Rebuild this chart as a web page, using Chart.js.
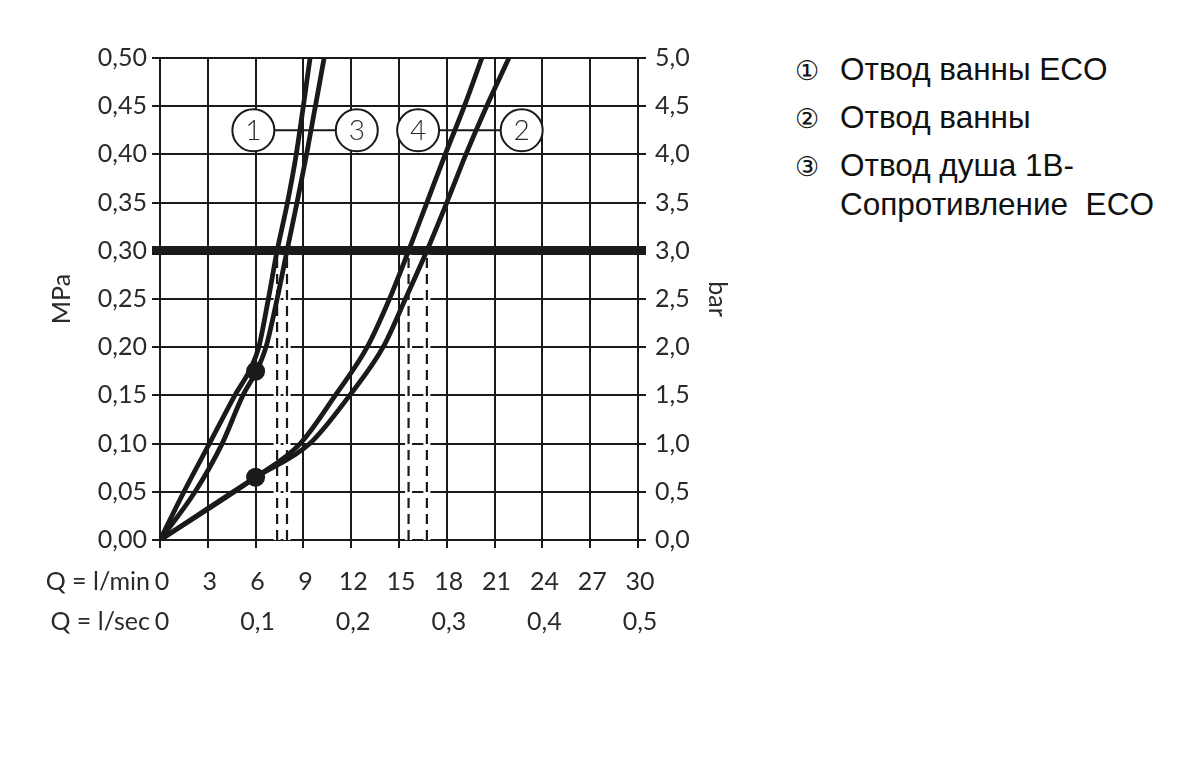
<!DOCTYPE html>
<html>
<head>
<meta charset="utf-8">
<script src="https://cdn.jsdelivr.net/npm/chart.js@4.4.0/dist/chart.umd.min.js"></script>
<style>
  html, body { margin: 0; padding: 0; background: #fff; }
  #wrap { position: absolute; left: 0; top: 0; width: 760px; height: 765px; }
  #legend { position: absolute; left: 795px; top: 45px; font-family: "Liberation Sans", Arial, sans-serif; font-size: 31.5px; color: #111; }
  #legend .row { height: 48px; line-height: 48px; white-space: pre; }
  #legend .row.cont { height: 38px; line-height: 30px; }
  #legend .num { display: inline-block; width: 45px; font-family: "DejaVu Sans", sans-serif; font-size: 27px; font-weight: 300; }
</style>
</head>
<body>
<div id="wrap"><canvas id="chart" width="760" height="765"></canvas></div>
<div id="legend">
  <div class="row"><span class="num">①</span>Отвод ванны ECO</div>
  <div class="row"><span class="num">②</span>Отвод ванны</div>
  <div class="row"><span class="num">③</span>Отвод душа 1B-</div>
  <div class="row cont"><span class="num"></span>Сопротивление  ECO</div>
</div>
<script>
/* ================= DATA ================= */
// flow in l/min, pressure in MPa
const curve1Flow = [0, 1.5, 3.1, 4.7, 5.75, 6.2, 6.8, 7.35, 8.0, 8.55, 9.42];
const curve1Pres = [0, 0.05, 0.10, 0.15, 0.18, 0.20, 0.25, 0.30, 0.35, 0.40, 0.50];

const curve3Flow = [0, 2.2, 3.9, 5.2, 6.05, 6.65, 7.35, 7.97, 8.6, 9.2, 10.3];
const curve3Pres = [0, 0.05, 0.10, 0.15, 0.175, 0.20, 0.25, 0.30, 0.35, 0.40, 0.50];

const curve4Flow = [0, 6, 8.8, 11.0, 13.0, 14.4, 15.6, 16.75, 17.9, 19.1, 20.2];
const curve4Pres = [0, 0.065, 0.10, 0.15, 0.20, 0.25, 0.30, 0.35, 0.40, 0.45, 0.50];

const curve2Flow = [0, 6, 9.4, 11.9, 14.0, 15.4, 16.75, 18.0, 19.2, 20.5, 21.9];
const curve2Pres = [0, 0.065, 0.10, 0.15, 0.20, 0.25, 0.30, 0.35, 0.40, 0.45, 0.50];

const dotFlow = [6, 6];
const dotPres = [0.175, 0.065];

const workPressure = 0.30;
const workFlow = [7.35, 7.97, 15.6, 16.75];

const badgeText = ["1", "3", "4", "2"];
const badgeFlow = [5.86, 12.35, 16.2, 22.7];
const badgePres = 0.425;

const minLabels = ["0", "3", "6", "9", "12", "15", "18", "21", "24", "27", "30"];
const secLabels = ["0", "", "0,1", "", "0,2", "", "0,3", "", "0,4", "", "0,5"];

/* ================= HELPERS ================= */
const INK = "#1a1a1a";
const TEXT = "#2a2a2a";
const FONT = "Lato";

function points(xs, ys) {
  return xs.map((x, i) => ({ x: x, y: ys[i] }));
}

function curveSet(xs, ys) {
  return {
    data: points(xs, ys),
    showLine: true,
    borderColor: INK,
    borderWidth: 4.8,
    pointRadius: 0,
    cubicInterpolationMode: "monotone",
    order: 2
  };
}

const datasets = [
  curveSet(curve1Flow, curve1Pres),
  curveSet(curve3Flow, curve3Pres),
  curveSet(curve4Flow, curve4Pres),
  curveSet(curve2Flow, curve2Pres),
  {
    data: points(dotFlow, dotPres),
    showLine: false,
    pointRadius: 9.5,
    pointBackgroundColor: INK,
    pointBorderWidth: 0,
    order: 1
  },
  // connectors between the number badges
  {
    data: [{ x: badgeFlow[0], y: badgePres }, { x: badgeFlow[1], y: badgePres }],
    showLine: true, borderColor: INK, borderWidth: 2, pointRadius: 0, order: 3
  },
  {
    data: [{ x: badgeFlow[2], y: badgePres }, { x: badgeFlow[3], y: badgePres }],
    showLine: true, borderColor: INK, borderWidth: 2, pointRadius: 0, order: 3
  },
  // badges
  {
    data: badgeFlow.map(x => ({ x: x, y: badgePres })),
    showLine: false,
    pointRadius: 21,
    pointBackgroundColor: "#fff",
    pointBorderColor: INK,
    pointBorderWidth: 2,
    order: 0
  }
];

// dashed drop lines from the 0,3 MPa line
workFlow.forEach(f => {
  datasets.push({
    data: [{ x: f, y: 0 }, { x: f, y: workPressure - 0.004 }],
    showLine: true, borderColor: "#fff", borderWidth: 7, pointRadius: 0, order: 6
  });
  datasets.push({
    data: [{ x: f, y: 0 }, { x: f, y: workPressure - 0.004 }],
    showLine: true, borderColor: INK, borderWidth: 2.2, borderDash: [10, 6], pointRadius: 0, order: 5
  });
});

/* ================= PLUGIN ================= */
const annotate = {
  id: "annotate",
  afterDatasetsDraw(chart) {
    const { ctx, scales: { x, y } } = chart;
    ctx.save();
    ctx.fillStyle = TEXT;
    ctx.textBaseline = "middle";
    ctx.textAlign = "center";
    ctx.font = "300 28px " + FONT;
    badgeText.forEach((t, i) => {
      ctx.fillText(t, x.getPixelForValue(badgeFlow[i]), y.getPixelForValue(badgePres) + 1);
    });
    ctx.textAlign = "right";
    ctx.font = "25px " + FONT;
    const left = x.getPixelForValue(0) - 10;
    ctx.fillText("Q = l/min", left, x.top + 42);
    ctx.fillText("Q = l/sec", left, x.top + 82);
    ctx.restore();
  }
};

function isWork(ctx, value) {
  return ctx.tick && Math.abs(ctx.tick.value - value) < 1e-6;
}

const tickFont = { family: FONT, size: 25 };

/* ================= CHART ================= */
new Chart(document.getElementById("chart"), {
  type: "scatter",
  data: { datasets: datasets },
  plugins: [annotate],
  options: {
    responsive: false,
    animation: false,
    layout: { padding: { top: 58, bottom: 0, left: 0, right: 0 } },
    plugins: { legend: { display: false }, tooltip: { enabled: false } },
    scales: {
      x: {
        type: "linear",
        min: 0, max: 30,
        afterFit: s => { s.height = 225; },
        ticks: {
          stepSize: 3,
          color: TEXT,
          font: Object.assign({ lineHeight: 1.6 }, tickFont),
          padding: 14,
          labelOffset: 2,
          maxRotation: 0,
          autoSkip: false,
          callback: (v, i) => [minLabels[i], secLabels[i]]
        },
        grid: { color: INK, lineWidth: 2, tickLength: 8 },
        border: { color: INK, width: 2 }
      },
      y: {
        position: "left",
        min: 0, max: 0.5,
        afterFit: s => { s.width = 160; },
        ticks: {
          stepSize: 0.05,
          color: TEXT,
          font: tickFont,
          padding: 5,
          callback: v => v.toFixed(2).replace(".", ",")
        },
        grid: {
          color: INK,
          tickLength: 8,
          lineWidth: c => isWork(c, workPressure) ? 9 : 2
        },
        border: { color: INK, width: 2 },
        title: { display: true, text: "MPa", color: TEXT, font: { family: FONT, size: 25 }, padding: { top: 47 } }
      },
      y2: {
        position: "right",
        min: 0, max: 5,
        afterFit: s => { s.width = 122; },
        ticks: {
          stepSize: 0.5,
          color: TEXT,
          font: tickFont,
          padding: 9,
          callback: v => v.toFixed(1).replace(".", ",")
        },
        grid: {
          color: INK,
          drawOnChartArea: false,
          tickLength: 8,
          lineWidth: c => isWork(c, workPressure * 10) ? 9 : 2
        },
        border: { color: INK, width: 2 },
        title: { display: true, text: "bar", color: TEXT, font: { family: FONT, size: 25 }, padding: { top: 28 } }
      }
    }
  }
});
</script>
</body>
</html>
